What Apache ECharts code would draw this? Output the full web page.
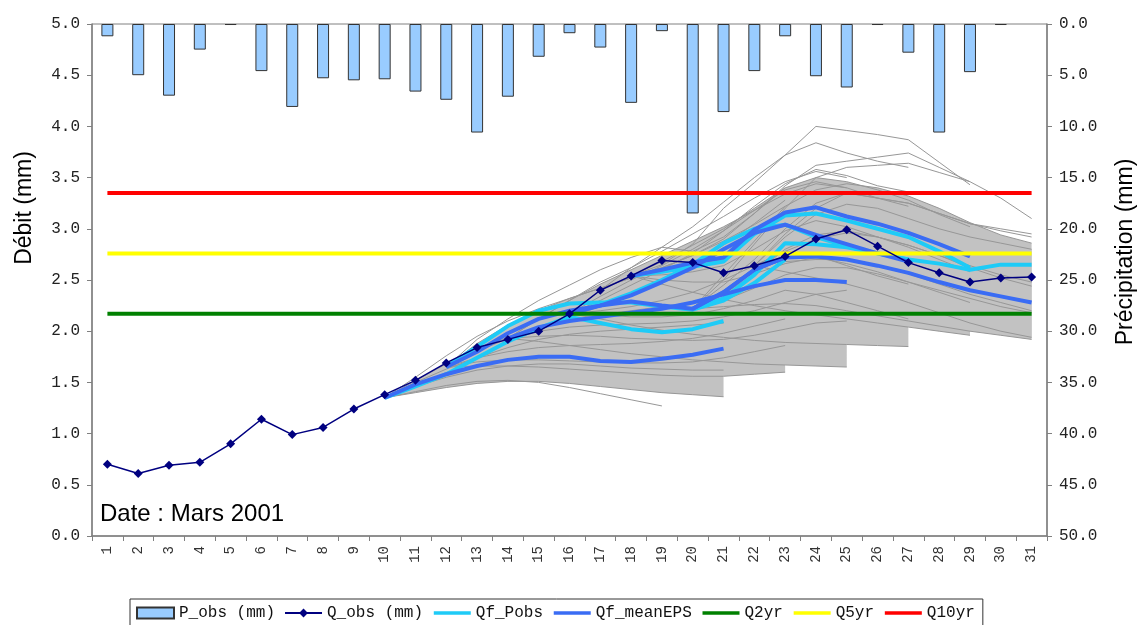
<!DOCTYPE html>
<html>
<head>
<meta charset="utf-8">
<script src="https://cdn.jsdelivr.net/npm/echarts@6/dist/echarts.min.js"></script>
<style>
html,body{margin:0;padding:0;background:#fff;}
#chart{width:1138px;height:625px;}
</style>
</head>
<body>
<div id="chart"></div>
<script>
// ---------- DATA ----------
const days = ['1','2','3','4','5','6','7','8','9','10','11','12','13','14','15','16','17','18','19','20','21','22','23','24','25','26','27','28','29','30','31'];
const debitTicks = ['0.0','0.5','1.0','1.5','2.0','2.5','3.0','3.5','4.0','4.5','5.0'];
const precipTicks = ['0.0','5.0','10.0','15.0','20.0','25.0','30.0','35.0','40.0','45.0','50.0'];

const P_obs = [1.2,5.0,7.0,2.5,0.1,4.6,8.1,5.3,5.5,5.4,6.6,7.4,10.6,7.1,3.2,0.9,2.3,7.7,0.7,18.5,8.6,4.6,1.2,5.1,6.2,0.1,2.8,10.6,4.7,0.1,null];
const Q_obs = [0.70,0.61,0.69,0.72,0.90,1.14,0.99,1.06,1.24,1.38,1.52,1.69,1.84,1.92,2.00,2.17,2.40,2.54,2.69,2.67,2.57,2.64,2.73,2.90,2.99,2.83,2.67,2.57,2.48,2.52,2.53];

const Q2yr = 2.17, Q5yr = 2.76, Q10yr = 3.35;

// Forecast issued day 10 (days 10-21)
const ens10Lo = [1.35,1.40,1.45,1.49,1.51,1.51,1.49,1.46,1.43,1.40,1.38,1.36];
const ens10Hi = [1.35,1.52,1.68,1.82,1.94,2.03,2.10,2.16,2.20,2.24,2.28,2.32];
const mean10  = [1.35,1.48,1.58,1.66,1.72,1.75,1.75,1.71,1.70,1.73,1.77,1.83];
const pobs10  = [1.35,1.46,1.58,1.74,1.90,2.03,2.14,2.08,2.02,1.99,2.02,2.10];
const mem10a  = [1.35,1.41,1.47,1.51,1.52,1.50,1.45,1.39,1.33,1.27];
const mem10b  = [1.35,1.55,1.76,1.95,2.10,2.22,2.32,2.42,2.52,2.60,2.66,2.70];
const mem10c  = [1.35,1.46,1.55,1.62,1.66,1.68,1.68,1.66,1.64,1.63,1.62,1.62];
const mem10d  = [1.35,1.50,1.63,1.74,1.84,1.92,1.97,2.00,2.02,2.04,2.06,2.08];

// Forecast issued day 12 (days 12-23)
const ens12Lo = [1.65,1.66,1.66,1.65,1.63,1.61,1.59,1.57,1.56,1.56,1.58,1.60];
const ens12Hi = [1.65,1.88,2.06,2.20,2.32,2.42,2.52,2.62,2.74,2.88,3.04,3.22];
const mean12  = [1.65,1.80,1.98,2.12,2.20,2.25,2.29,2.25,2.22,2.38,2.60,2.72];
const pobs12  = [1.65,1.85,2.05,2.20,2.27,2.28,2.28,2.24,2.21,2.30,2.47,2.70];
const mem12a  = [1.65,1.92,2.12,2.30,2.45,2.60,2.72,2.82,2.78,2.92,3.15,3.40];
const mem12b  = [1.65,1.80,1.93,2.04,2.14,2.24,2.36,2.50,2.66,2.84,3.05,3.28];
const mem12c  = [1.65,1.74,1.80,1.84,1.86,1.87,1.88,1.90,1.93,1.98,2.05,2.12];
const mem12d  = [1.65,1.70,1.72,1.72,1.71,1.70,1.69,1.69,1.70,1.74,1.80,1.86];

// Forecast issued day 14 (days 14-25)
const ens14Lo = [1.93,1.90,1.86,1.82,1.78,1.75,1.72,1.70,1.68,1.67,1.66,1.65];
const ens14Hi = [1.93,2.12,2.30,2.46,2.60,2.74,2.88,3.02,3.18,3.34,3.44,3.40];
const mean14  = [1.93,2.04,2.10,2.14,2.18,2.22,2.28,2.36,2.44,2.50,2.50,2.48];
const mem14a  = [1.93,2.12,2.30,2.48,2.62,2.78,2.95,3.12,3.30,3.46,3.56,3.50];
const mem14b  = [1.93,2.00,2.04,2.06,2.07,2.08,2.10,2.14,2.20,2.28,2.36,2.40];
const mem14c  = [1.93,1.95,1.96,1.95,1.93,1.92,1.91,1.92,1.96,2.02,2.08,2.10];

// Forecast issued day 16 (days 16-27)
const ens16Lo = [2.17,2.12,2.06,2.01,1.97,1.94,1.91,1.89,1.88,1.87,1.86,1.85];
const ens16Hi = [2.17,2.34,2.50,2.64,2.80,2.98,3.18,3.38,3.46,3.40,3.30,3.22];
const mean16  = [2.17,2.25,2.35,2.48,2.62,2.80,2.96,3.04,2.94,2.85,2.76,2.68];
const pobs16  = [2.17,2.26,2.37,2.50,2.65,2.86,3.00,3.04,2.92,2.83,2.76,2.70];
const mem16a  = [2.17,2.40,2.62,2.82,3.02,3.26,3.50,3.72,3.84,3.74,3.66,3.60];
const mem16b  = [2.17,2.30,2.45,2.60,2.76,2.98,3.22,3.44,3.58,3.52,3.42,3.36];
const mem16c  = [2.17,2.20,2.24,2.30,2.38,2.50,2.64,2.78,2.74,2.64,2.54,2.46];
const mem16d  = [2.17,2.16,2.14,2.14,2.16,2.22,2.30,2.40,2.36,2.28,2.20,2.12];

// Forecast issued day 18 (days 18-29)
const ens18Lo = [2.54,2.46,2.38,2.31,2.25,2.20,2.16,2.12,2.08,2.04,2.00,1.96];
const ens18Hi = [2.54,2.68,2.84,3.00,3.20,3.40,3.50,3.46,3.38,3.28,3.14,3.02];
const mean18  = [2.54,2.60,2.67,2.72,2.99,3.16,3.21,3.12,3.05,2.96,2.85,2.73];
const pobs18  = [2.54,2.58,2.63,2.68,2.95,3.13,3.15,3.08,3.00,2.92,2.78,2.62];
const mem18a  = [2.54,2.65,2.85,3.20,3.45,3.72,4.00,3.96,3.92,3.87,3.65,3.43];
const mem18b  = [2.54,2.62,2.74,2.90,3.15,3.42,3.62,3.66,3.70,3.74,3.60,3.46];
const mem18c  = [2.54,2.55,2.58,2.64,2.80,2.98,3.08,3.02,2.92,2.82,2.70,2.58];
const mem18d  = [2.54,2.50,2.48,2.48,2.56,2.66,2.72,2.66,2.58,2.48,2.38,2.28];

// Forecast issued day 20 (days 20-31)
const ens20Lo = [2.22,2.24,2.26,2.27,2.25,2.20,2.15,2.10,2.05,2.00,1.96,1.92];
const ens20Hi = [2.22,2.55,2.88,3.22,3.38,3.44,3.40,3.32,3.20,3.06,2.94,2.86];
const mean20  = [2.22,2.38,2.60,2.72,2.73,2.70,2.64,2.57,2.48,2.40,2.34,2.28];
const pobs20  = [2.22,2.32,2.55,2.86,2.85,2.82,2.76,2.70,2.66,2.60,2.65,2.65];
const mem20a  = [2.22,2.50,2.85,3.20,3.50,3.60,3.62,3.64,3.55,3.46,3.30,3.10];
const mem20b  = [2.22,2.45,2.70,3.00,3.25,3.35,3.30,3.25,3.15,3.05,3.00,2.95];
const mem20c  = [2.22,2.36,2.56,2.80,2.94,2.98,2.92,2.84,2.74,2.62,2.52,2.44];
const mem20d  = [2.22,2.30,2.42,2.55,2.62,2.62,2.56,2.48,2.40,2.32,2.24,2.18];

// Forecast issued day 22 (days 22-31)
const ens22Lo = [2.64,2.58,2.52,2.46,2.38,2.28,2.18,2.08,2.00,1.94];
const ens22Hi = [2.64,2.92,3.14,3.24,3.20,3.10,3.00,2.92,2.86,2.80];
const mem22a  = [2.64,2.95,3.20,3.35,3.30,3.25,3.15,3.05,2.98,2.92];
const mem22b  = [2.64,2.78,2.90,2.96,2.92,2.84,2.74,2.64,2.55,2.48];
const mem22c  = [2.64,2.68,2.70,2.70,2.64,2.56,2.46,2.36,2.28,2.20];

// ---------- BUILD ----------
function seg(start, vals){
  const a = new Array(days.length).fill(null);
  vals.forEach((v,i)=>{ a[start-1+i] = v; });
  return a;
}
const C_GRAY_FILL = '#c2c2c2', C_GRAY = '#979797', C_CYAN = '#1ecbf7', C_BLUE = '#3a6cf4';
const series = [];

series.push({
  name:'P_obs (mm)', type:'bar', xAxisIndex:0, yAxisIndex:1, data:P_obs, barWidth:12, z:1,
  itemStyle:{color:'#99ccff', borderColor:'#333', borderWidth:1}
});

const bands = [[10,ens10Lo,ens10Hi],[12,ens12Lo,ens12Hi],[14,ens14Lo,ens14Hi],[16,ens16Lo,ens16Hi],[18,ens18Lo,ens18Hi],[20,ens20Lo,ens20Hi],[22,ens22Lo,ens22Hi]];
bands.forEach(([s,lo,hi])=>{
  series.push({type:'line', stack:'band'+s, data:seg(s,lo), symbol:'none', silent:true, z:2, lineStyle:{opacity:0}});
  series.push({type:'line', stack:'band'+s, data:seg(s,hi.map((h,i)=>+(h-lo[i]).toFixed(3))), symbol:'none', silent:true, z:2,
    lineStyle:{opacity:0}, areaStyle:{color:C_GRAY_FILL, opacity:1}});
});

const members = [
  [10,mem10a],[10,mem10b],[10,mem10c],[10,mem10d],
  [12,mem12a],[12,mem12b],[12,mem12c],[12,mem12d],
  [14,mem14a],[14,mem14b],[14,mem14c],
  [16,mem16a],[16,mem16b],[16,mem16c],[16,mem16d],
  [18,mem18a],[18,mem18b],[18,mem18c],[18,mem18d],
  [20,mem20a],[20,mem20b],[20,mem20c],[20,mem20d],
  [22,mem22a],[22,mem22b],[22,mem22c]];
const edges = bands.flatMap(([s,lo,hi])=>[[s,lo],[s,hi]]);
members.concat(edges).forEach(([s,v])=>{
  series.push({type:'line', data:seg(s,v), symbol:'none', silent:true, z:3, lineStyle:{color:C_GRAY, width:1}});
});

[[10,pobs10],[12,pobs12],[16,pobs16],[18,pobs18],[20,pobs20]].forEach(([s,v])=>{
  series.push({name:'Qf_Pobs', type:'line', data:seg(s,v), symbol:'none', z:4, itemStyle:{color:C_CYAN}, lineStyle:{color:C_CYAN, width:4}});
});
[[10,mean10],[12,mean12],[14,mean14],[16,mean16],[18,mean18],[20,mean20]].forEach(([s,v])=>{
  series.push({name:'Qf_meanEPS', type:'line', data:seg(s,v), symbol:'none', z:4, itemStyle:{color:C_BLUE}, lineStyle:{color:C_BLUE, width:4}});
});

[['Q2yr',Q2yr,'#008000'],['Q5yr',Q5yr,'#ffff00'],['Q10yr',Q10yr,'#ff0000']].forEach(([n,v,c])=>{
  series.push({name:n, type:'line', data:[[days[0],v],[days[days.length-1],v]], symbol:'none', z:5,
    itemStyle:{color:c}, lineStyle:{color:c, width:4}});
});

series.push({
  name:'Q_obs (mm)', type:'line', data:Q_obs, symbol:'diamond', symbolSize:9, z:6,
  itemStyle:{color:'#000080'}, lineStyle:{color:'#000080', width:1.5}
});

const monoLabel = {fontFamily:'Liberation Mono', fontSize:16, color:'#222'};
const noSym = {opacity:0};
const thick = {width:3.5};

const option = {
  animation:false,
  backgroundColor:'#fff',
  grid:{left:92, right:91, top:24, bottom:89, show:true, borderColor:'#808080', borderWidth:1},
  xAxis:[{
    type:'category', data:days, boundaryGap:true,
    axisLine:{show:true, lineStyle:{color:'#808080', width:1.5}},
    axisTick:{show:true, length:5, inside:false, lineStyle:{color:'#808080'}},
    axisLabel:{rotate:90, margin:10, fontFamily:'Liberation Mono', fontSize:14, color:'#333'},
    splitLine:{show:false}
  }],
  yAxis:[{
    type:'value', min:0, max:5, interval:0.5, position:'left',
    axisLine:{show:true, lineStyle:{color:'#808080', width:1.5}},
    axisTick:{show:true, length:5, lineStyle:{color:'#808080'}},
    axisLabel:Object.assign({margin:12, formatter:(v)=>debitTicks[Math.round(v/0.5)]}, monoLabel),
    splitLine:{show:false}
  },{
    type:'value', min:0, max:50, interval:5, inverse:true, position:'right',
    axisLine:{show:true, lineStyle:{color:'#808080', width:1.5}},
    axisTick:{show:true, length:5, lineStyle:{color:'#808080'}},
    axisLabel:Object.assign({margin:12, formatter:(v)=>precipTicks[Math.round(v/5)]}, monoLabel),
    splitLine:{show:false}
  }],
  legend:{
    left:130, top:599, orient:'horizontal',
    data:[
      {name:'P_obs (mm)', icon:'rect'},
      'Q_obs (mm)',
      {name:'Qf_Pobs', itemStyle:noSym, lineStyle:thick},
      {name:'Qf_meanEPS', itemStyle:noSym, lineStyle:thick},
      {name:'Q2yr', itemStyle:noSym, lineStyle:thick},
      {name:'Q5yr', itemStyle:noSym, lineStyle:thick},
      {name:'Q10yr', itemStyle:noSym, lineStyle:thick}
    ],
    itemWidth:37, itemHeight:11, itemGap:9,
    borderColor:'#333', borderWidth:1, padding:[6,8,8,6],
    textStyle:{fontFamily:'Liberation Mono', fontSize:16, color:'#111'}
  },
  graphic:[
    {type:'text', x:25, y:208, rotation:Math.PI/2,
      style:{text:'Débit (mm)', font:'23px "Liberation Sans", Arial, sans-serif', fill:'#000', textAlign:'center', textVerticalAlign:'middle'}},
    {type:'text', x:1126, y:252, rotation:Math.PI/2,
      style:{text:'Précipitation (mm)', font:'23px "Liberation Sans", Arial, sans-serif', fill:'#000', textAlign:'center', textVerticalAlign:'middle'}},
    {type:'text', x:100, y:514,
      style:{text:'Date : Mars 2001', font:'24px "Liberation Sans", Arial, sans-serif', fill:'#000', textAlign:'left', textVerticalAlign:'middle'}}
  ],
  series:series
};
const chart = echarts.init(document.getElementById('chart'), null, {renderer:'canvas'});
chart.setOption(option);
</script>
</body>
</html>
